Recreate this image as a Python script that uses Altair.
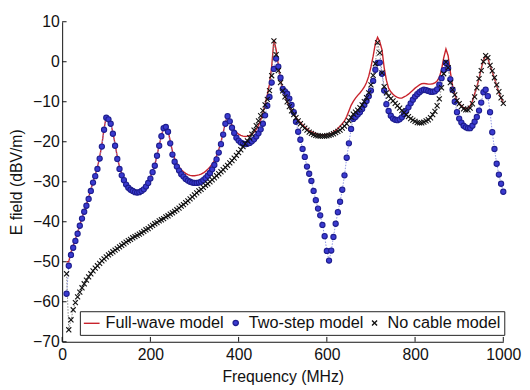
import altair as alt
import pandas as pd

FREQ = list(range(10, 1001, 5))

FULL_WAVE = [
    -50.0, -50.0, -47.6, -46.0, -44.4, -42.7, -40.8, -39.0, -37.3, -35.7,
    -34.0, -32.0, -30.0, -28.3, -26.4, -23.8, -20.8, -16.7, -13.7, -14.2,
    -15.3, -17.7, -20.6, -23.8, -26.3, -28.0, -29.3, -30.4, -31.2, -31.7,
    -32.0, -32.2, -32.3, -32.2, -32.0, -31.6, -30.9, -30.0, -28.9, -27.4,
    -25.8, -23.4, -20.9, -18.5, -16.5, -16.1, -17.2, -19.8, -22.4, -24.2,
    -25.4, -26.3, -27.0, -27.5, -27.9, -28.2, -28.4, -28.5, -28.5, -28.4,
    -28.3, -28.1, -27.8, -27.4, -26.9, -26.3, -25.6, -24.7, -23.5, -22.0,
    -20.1, -17.8, -15.2, -13.4, -14.6, -15.9, -16.9, -17.6, -18.1, -18.4,
    -18.6, -18.7, -18.6, -18.4, -18.1, -17.6, -16.9, -15.9, -14.6, -12.8,
    -10.6, -8.3, -5.6, -1.2, 5.5, 3.0, -0.8, -4.4, -7.0, -8.7,
    -10.0, -11.2, -12.2, -13.1, -13.9, -14.6, -15.2, -15.8, -16.3, -16.8,
    -17.2, -17.5, -17.8, -18.0, -18.2, -18.3, -18.3, -18.3, -18.2, -18.1,
    -17.9, -17.6, -17.2, -16.7, -16.1, -15.5, -14.8, -13.7, -12.3, -10.9,
    -9.9, -9.1, -8.4, -7.8, -7.1, -6.3, -5.2, -3.6, -1.3, 1.4,
    4.6, 6.1, 5.0, 3.0, -1.5, -4.6, -6.6, -7.5, -8.1, -8.6,
    -8.9, -9.1, -9.1, -8.8, -8.5, -8.1, -7.6, -7.1, -6.6, -6.2,
    -5.8, -5.5, -5.4, -5.5, -5.6, -5.6, -5.5, -5.3, -4.8, -3.9,
    -2.0, 1.0, 3.2, 1.5, -2.6, -6.0, -8.2, -9.6, -10.4, -11.0,
    -11.5, -11.7, -11.6, -11.0, -9.8, -8.0, -6.3, -4.2, -1.7, 0.3,
    1.5, 0.8, -0.9, -2.5, -4.2, -6.0, -7.7, -9.1, -10.3,
]

TWO_STEP = [
    -58.0, -51.0, -48.3, -46.5, -44.8, -43.0, -41.0, -39.2, -37.5, -36.0,
    -34.3, -32.3, -30.2, -28.6, -26.8, -24.2, -21.2, -17.0, -14.0, -14.4,
    -15.5, -18.0, -21.0, -24.3, -26.8, -28.4, -29.6, -30.7, -31.5, -32.0,
    -32.3, -32.6, -32.7, -32.6, -32.3, -31.9, -31.2, -30.3, -29.2, -27.6,
    -26.0, -23.5, -21.0, -18.6, -16.6, -16.3, -17.5, -20.4, -23.2, -25.0,
    -26.2, -27.2, -28.1, -28.7, -29.3, -29.7, -30.0, -30.2, -30.3, -30.3,
    -30.2, -30.0, -29.6, -29.1, -28.5, -27.8, -26.9, -25.8, -24.4, -22.7,
    -20.6, -18.2, -15.5, -13.6, -14.9, -16.5, -17.8, -19.0, -19.7, -20.2,
    -20.5, -20.6, -20.5, -20.3, -19.9, -19.4, -18.7, -17.9, -16.9, -15.5,
    -13.4, -11.0, -8.8, -5.2, -1.8, 0.8, -1.2, -4.0, -6.8, -7.4,
    -8.0, -9.2, -10.8, -12.6, -15.0, -17.5, -19.5, -21.8, -23.8, -26.2,
    -28.0, -29.8, -32.3, -34.6, -36.7, -38.4, -40.8, -43.6, -47.3, -49.7,
    -47.2, -43.8, -40.5, -37.6, -35.0, -32.0, -28.4, -24.0, -20.4, -16.8,
    -14.3, -13.8, -13.2, -12.6, -11.8, -10.8, -9.8, -8.6, -7.2, -4.8,
    -2.0, -0.3, -0.2, -3.0, -7.2, -10.6, -12.3, -13.5, -14.2, -14.5,
    -14.6, -14.4, -13.9, -13.1, -12.3, -11.4, -10.4, -9.5, -8.7, -8.1,
    -7.6, -7.2, -7.0, -7.1, -7.3, -7.5, -7.5, -7.4, -6.9, -5.7,
    -4.1, -2.1, -0.3, -1.6, -4.4, -7.0, -10.0, -12.6, -14.2, -15.2,
    -16.0, -16.4, -16.6, -16.6, -16.0, -15.0, -13.8, -12.2, -10.2, -7.6,
    -7.0, -8.6, -12.6, -17.6, -21.8, -25.5, -28.2, -30.5, -32.5,
]

NO_CABLE = [
    -53.0, -67.0, -64.5, -62.0, -60.2, -58.8, -57.6, -56.5, -55.5, -54.6,
    -53.8, -53.0, -52.3, -51.6, -51.0, -50.4, -49.8, -49.3, -48.8, -48.3,
    -47.9, -47.5, -47.1, -46.7, -46.3, -45.9, -45.5, -45.1, -44.7, -44.4,
    -44.0, -43.7, -43.4, -43.1, -42.8, -42.4, -42.0, -41.7, -41.3, -40.9,
    -40.5, -40.2, -39.8, -39.5, -39.2, -38.8, -38.5, -38.1, -37.8, -37.4,
    -37.0, -36.6, -36.1, -35.7, -35.2, -34.8, -34.3, -33.8, -33.3, -32.8,
    -32.3, -31.9, -31.4, -30.9, -30.5, -30.0, -29.5, -29.0, -28.5, -28.0,
    -27.5, -27.0, -26.4, -25.9, -25.3, -24.7, -24.1, -23.4, -22.7, -22.0,
    -21.2, -20.5, -19.8, -19.0, -18.1, -17.1, -16.0, -14.8, -13.5, -12.2,
    -10.8, -9.4, -7.2, -3.5, 5.2, 1.8, -2.2, -5.2, -7.3, -8.8,
    -10.0, -11.2, -12.3, -13.2, -14.0, -14.8, -15.5, -16.1, -16.6, -17.1,
    -17.6, -17.9, -18.2, -18.4, -18.5, -18.6, -18.6, -18.6, -18.5, -18.4,
    -18.2, -18.0, -17.7, -17.4, -17.1, -16.6, -16.1, -15.5, -14.7, -13.9,
    -13.1, -12.6, -12.1, -11.5, -10.8, -10.0, -9.0, -7.8, -5.8, -3.4,
    -0.5, 4.8, 2.2, -2.8, -6.2, -7.8, -8.6, -9.2, -9.8, -10.4,
    -11.0, -11.6, -12.2, -12.7, -13.2, -13.7, -14.2, -14.6, -14.9, -15.2,
    -15.3, -15.3, -15.1, -14.8, -14.5, -14.0, -13.2, -12.4, -11.0, -9.3,
    -6.5, -3.0, -0.1, -1.5, -5.2, -7.0, -8.3, -9.7, -10.5, -11.2,
    -11.8, -12.0, -12.0, -11.6, -10.5, -8.8, -6.5, -4.2, -2.2, 0.0,
    1.5, 1.0, -0.9, -2.3, -4.0, -5.8, -7.5, -9.0, -10.4,
]

SERIES = ["Full-wave model", "Two-step model", "No cable model"]
X_TICKS = [0, 200, 400, 600, 800, 1000]
Y_TICKS = [10, 0, -10, -20, -30, -40, -50, -60, -70]

FONT = "Liberation Sans"

rows = []
for name, vals in zip(SERIES, [FULL_WAVE, TWO_STEP, NO_CABLE]):
    for f, v in zip(FREQ, vals):
        rows.append({"f": f, "v": v, "series": name})
df = pd.DataFrame(rows)

xscale = alt.Scale(domain=[0, 1000], nice=False, zero=False)
yscale = alt.Scale(domain=[-70, 10], nice=False, zero=False)

xaxis = alt.Axis(values=X_TICKS, format="d", ticks=False, grid=False, domainColor="#111",
                 labelPadding=5, title="Frequency (MHz)", titlePadding=6)
yaxis = alt.Axis(values=Y_TICKS, format="d", ticks=False, grid=False, domainColor="#111",
                 labelPadding=3, title="E field (dBV/m)", titlePadding=8)

X = alt.X("f:Q", scale=xscale, axis=xaxis)
Y = alt.Y("v:Q", scale=yscale, axis=yaxis)

base = alt.Chart(df)

red_line = base.transform_filter(alt.datum.series == SERIES[0]).mark_line(
    color="#c8232c", strokeWidth=1.4).encode(x=X, y=Y)

dotted = base.transform_filter(alt.datum.series != SERIES[0]).mark_line(
    strokeDash=[1.5, 1.5], strokeWidth=0.9).encode(
    x=X, y=Y,
    color=alt.Color("series:N", scale=alt.Scale(domain=SERIES[1:], range=["#8088e0", "#777777"]),
                    legend=None),
)

legend = alt.Legend(title=None, orient="none", legendX=18, legendY=294, direction="horizontal",
                    strokeColor="#222", fillColor="white", padding=3,
                    labelFontSize=16.5, labelFont=FONT, labelColor="#111",
                    labelOffset=5, columnPadding=3, symbolStrokeWidth=1.4)

points = base.transform_filter(alt.datum.series != SERIES[0]).mark_point(
    strokeWidth=1.1, opacity=1).encode(
    x=X, y=Y,
    shape=alt.Shape("series:N", scale=alt.Scale(domain=SERIES,
                    range=["stroke", "circle", "M-1,-1L1,1M1,-1L-1,1"]), legend=legend),
    fill=alt.Fill("series:N", scale=alt.Scale(domain=SERIES,
                  range=["#c8232c", "#3a3ad0", "#111111"]), legend=legend),
    stroke=alt.Stroke("series:N", scale=alt.Scale(domain=SERIES,
                      range=["#c8232c", "#1e1e8e", "#111111"]), legend=legend),
    size=alt.Size("series:N", scale=alt.Scale(type="ordinal", domain=SERIES,
                  range=[256, 28, 26]), legend=legend),
)

yticks = alt.Chart(pd.DataFrame({"v": Y_TICKS})).mark_rule(color="#111", strokeWidth=1).encode(
    y=Y,
    x=alt.XDatum(0),
    x2=alt.X2Datum(10),
)
xticks = alt.Chart(pd.DataFrame({"f": X_TICKS})).mark_rule(color="#111", strokeWidth=1).encode(
    x=X,
    y=alt.YDatum(-70),
    y2=alt.Y2Datum(-68.8),
)

chart = alt.layer(red_line, dotted, points, yticks, xticks).properties(
    width=448, height=325,
    autosize=alt.AutoSizeParams(type="none"),
    padding={"left": 55, "top": 11, "right": 19, "bottom": 44},
).configure_view(stroke=None).configure_axis(
    labelFont=FONT, labelFontSize=16, labelColor="#111",
    titleFont=FONT, titleFontSize=16, titleFontWeight="normal", titleColor="#111",
    labelFlush=False, labelOverlap=False,
)

chart.save("out.html", embed_options={"renderer": "svg", "actions": False})
